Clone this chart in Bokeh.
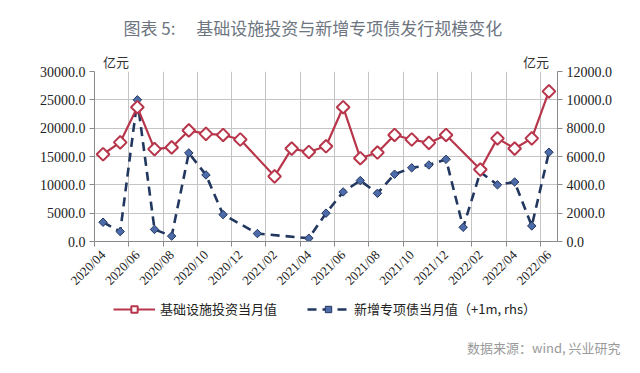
import math
from bokeh.plotting import figure
from bokeh.layouts import column
from bokeh.models import (Range1d, LinearAxis, FixedTicker, NumeralTickFormatter,
                          Legend, LegendItem, ColumnDataSource, Title)
from bokeh.embed import file_html
from bokeh.resources import INLINE

months = ["2020/04", "2020/05", "2020/06", "2020/07", "2020/08", "2020/09", "2020/10",
          "2020/11", "2020/12", "2021/01", "2021/02", "2021/03", "2021/04", "2021/05",
          "2021/06", "2021/07", "2021/08", "2021/09", "2021/10", "2021/11", "2021/12",
          "2022/01", "2022/02", "2022/03", "2022/04", "2022/05", "2022/06"]
infra = [15400, 17500, 23700, 16300, 16600, 19600, 19000, 18800, 18000, None,
         11500, 16400, 15800, 16800, 23700, 14700, 15700, 18800, 18000, 17400,
         18800, None, 12700, 18200, 16400, 18200, 26500]
bonds = [1360, 700, 10000, 850, 380, 6250, 4700, 1900, None, 560, None, None,
         230, 2000, 3500, 4300, 3400, 4750, 5200, 5400, 5800, 1000, 4900, 4000,
         4200, 1100, 6300]
left_ticks = [0, 5000, 10000, 15000, 20000, 25000, 30000]
right_ticks = [0, 2000, 4000, 6000, 8000, 10000, 12000]
label_idx = list(range(0, 27, 2))

name_infra = "基础设施投资当月值"
name_bonds = "新增专项债当月值（+1m, rhs）"
title_txt = "图表 5:\u3000\u00a0基础设施投资与新增专项债发行规模变化"
source_txt = "数据来源：wind, 兴业研究"
unit = "亿元"

RED = "#B8364B"
NAVY = "#22375F"
BLUE = "#4C6BA8"
CJK = "Noto Sans CJK SC"
SERIF = "'Liberation Serif', 'Times New Roman', serif"

W = 624
H_MAIN = 296
H_FOOT = 61

p = figure(width=W, height=H_MAIN, output_backend="svg", toolbar_location=None,
           x_range=Range1d(-0.5, len(months) - 0.5), y_range=Range1d(0, 30000),
           min_border_left=94, min_border_right=67, min_border_top=71,
           min_border_bottom=48)
p.extra_y_ranges = {"rhs": Range1d(0, 12000)}
p.outline_line_color = None
p.background_fill_color = "white"

ri = [(i, v) for i, v in enumerate(infra) if v is not None]
bi = [(i, v) for i, v in enumerate(bonds) if v is not None]
src_r = ColumnDataSource(dict(x=[a for a, _ in ri], y=[b for _, b in ri]))
src_b = ColumnDataSource(dict(x=[a for a, _ in bi], y=[b for _, b in bi]))

line_b = dict(line_color=NAVY, line_width=2.6, line_dash="9 6")
mark_b = dict(marker="square", angle=math.pi / 4, size=6, fill_color=BLUE,
              line_color=NAVY, line_width=1)
line_r = dict(line_color=RED, line_width=2.2)
mark_r = dict(marker="square", angle=math.pi / 4, size=9, fill_color="white",
              line_color=RED, line_width=2)

p.line("x", "y", source=src_b, y_range_name="rhs", **line_b)
p.scatter("x", "y", source=src_b, y_range_name="rhs", **mark_b)
p.line("x", "y", source=src_r, **line_r)
p.scatter("x", "y", source=src_r, **mark_r)

# y axes
p.yaxis.ticker = FixedTicker(ticks=left_ticks)
p.yaxis.formatter = NumeralTickFormatter(format="0.0")
ra = LinearAxis(y_range_name="rhs", ticker=FixedTicker(ticks=right_ticks),
                formatter=NumeralTickFormatter(format="0.0"))
p.add_layout(ra, "right")
for ax in (p.yaxis[0], ra):
    ax.axis_line_color = "#8a8a8a"
    ax.major_tick_line_color = "#8a8a8a"
    ax.major_tick_out = 5
    ax.major_tick_in = 0
    ax.minor_tick_line_color = None
    ax.major_label_text_font = SERIF
    ax.major_label_text_font_size = "14px"
    ax.major_label_text_color = "#222222"
    ax.major_label_standoff = 4

# x axis (bottom)
xa = p.xaxis[0]
xa.ticker = FixedTicker(ticks=label_idx,
                        minor_ticks=[k - 0.5 for k in range(0, 28, 2)])
xa.major_label_overrides = {i: months[i] for i in label_idx}
xa.major_label_orientation = math.pi / 4
xa.major_tick_line_color = None
xa.major_tick_out = 0
xa.minor_tick_line_color = "#8a8a8a"
xa.minor_tick_out = 5
xa.minor_tick_in = 0
xa.axis_line_color = "#8a8a8a"
xa.major_label_text_font = SERIF
xa.major_label_text_font_size = "13px"
xa.major_label_text_color = "#222222"
xa.major_label_standoff = 6

p.ygrid.ticker = FixedTicker(ticks=left_ticks)
p.ygrid.grid_line_color = "#c4c4c4"
p.xgrid.ticker = FixedTicker(ticks=[k - 0.5 for k in range(2, 27, 2)])
p.xgrid.grid_line_color = "#c4c4c4"

# title
p.title.text = title_txt
p.title.align = "left"
p.title.offset = 29
p.title.text_font = CJK
p.title.text_font_size = "17px"
p.title.text_font_style = "normal"
p.title.text_color = "#6d7580"
p.title.standoff = 17

# unit labels as a text-only axis above the frame
unit_pos = [0.75, 25.25]
ua = LinearAxis(ticker=FixedTicker(ticks=unit_pos, minor_ticks=[]),
                major_label_overrides={v: unit for v in unit_pos})
ua.axis_line_color = None
ua.major_tick_line_color = None
ua.minor_tick_line_color = None
ua.major_tick_out = 0
ua.major_tick_in = 0
ua.major_label_standoff = 1
ua.major_label_text_font = CJK
ua.major_label_text_font_size = "13px"
ua.major_label_text_color = "#333333"
p.add_layout(ua, "above")

# footer figure (its frame is aligned with the main one: x in page pixels 94..557)
f = figure(width=W, height=H_FOOT, output_backend="svg", toolbar_location=None,
           x_range=Range1d(94, 557), y_range=Range1d(0, 40),
           x_axis_type=None, y_axis_type=None, min_border=0)
f.grid.visible = False
f.outline_line_color = None
# legend proxies share the chart data; they fall outside this strip's range
lr = f.line("x", "y", source=src_r, **line_r)
mr = f.scatter("x", "y", source=src_r, **mark_r)
lb = f.line("x", "y", source=src_b, **line_b)
mb = f.scatter("x", "y", source=src_b, **mark_b)

legend = Legend(items=[LegendItem(label=name_infra, renderers=[lr, mr]),
                       LegendItem(label=name_bonds, renderers=[lb, mb])],
                location=(19, 16), orientation="horizontal",
                glyph_width=42, glyph_height=16, label_standoff=5, spacing=30,
                padding=0, margin=0, border_line_color=None,
                background_fill_alpha=0, label_text_font=CJK,
                label_text_font_size="13px", label_text_color="#222222")
f.add_layout(legend, "center")
f.add_layout(Title(text=source_txt, align="right", offset=-63, text_font=CJK,
                   text_font_size="13px", text_font_style="normal",
                   text_color="#9a9a9a", standoff=2), "below")

open("out.html", "w").write(file_html(column(p, f, spacing=0), INLINE))
